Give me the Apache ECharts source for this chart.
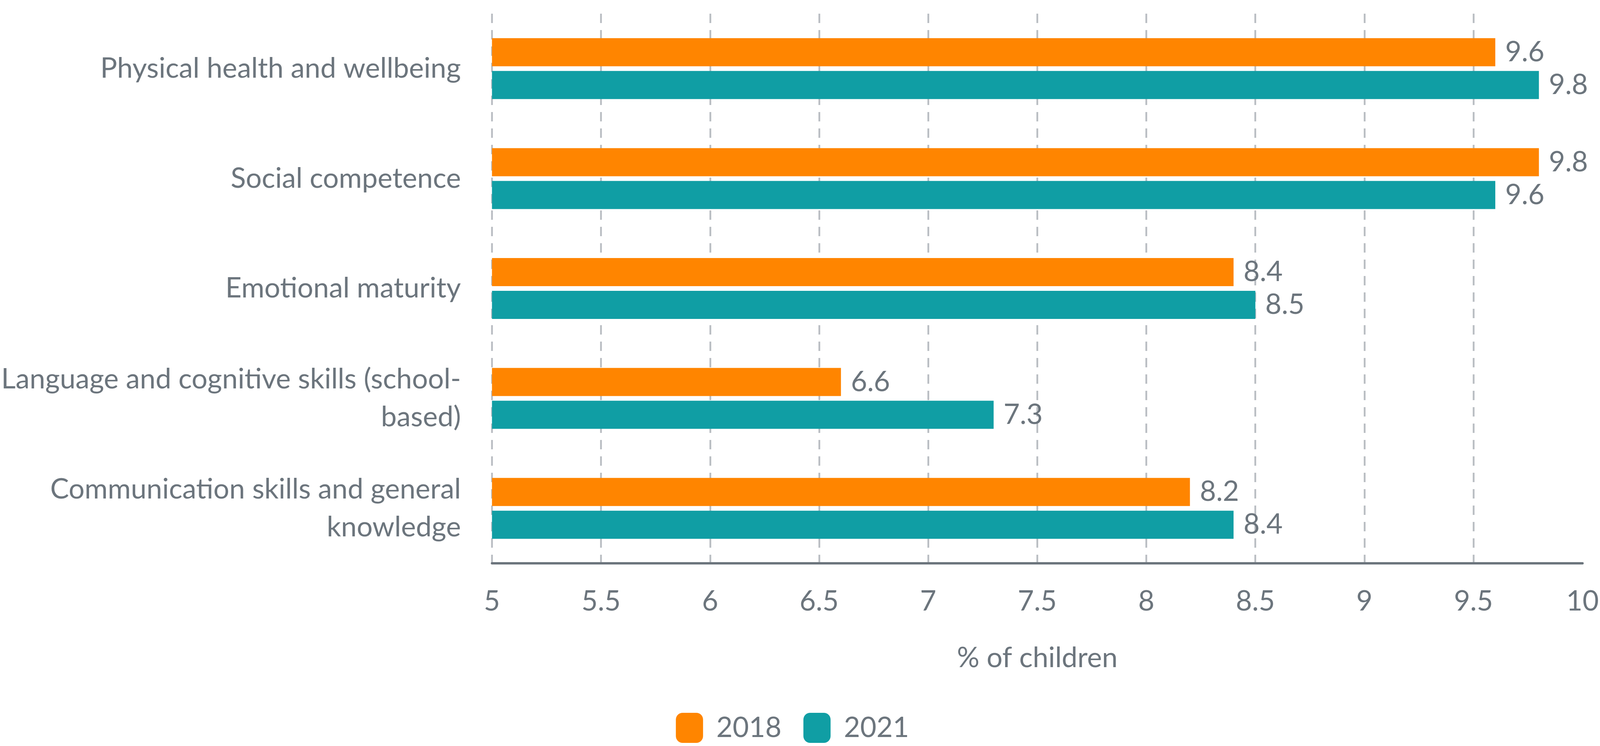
<!DOCTYPE html>
<html>
<head>
<meta charset="utf-8">
<script src="https://cdn.jsdelivr.net/npm/echarts@6/dist/echarts.min.js"></script>
<style>
html,body{margin:0;padding:0;background:#fff;overflow:hidden;}
#chart{width:100vw;height:100vh;}
</style>
</head>
<body>
<div id="chart"></div>
<script>
const categories = [
  'Physical health and wellbeing',
  'Social competence',
  'Emotional maturity',
  'Language and cognitive skills (school-\nbased)',
  'Communication skills and general\nknowledge'
];
const seriesNames = ['2018', '2021'];
const values2018 = [9.6, 9.8, 8.4, 6.6, 8.2];
const values2021 = [9.8, 9.6, 8.5, 7.3, 8.4];
const xTicks = { min: 5, max: 10, interval: 0.5 };
const xAxisName = '% of children';

const textColor = '#6c757d';
const font = 'Lato';

// design size 4530x1911; map to the actual viewport
const sx = window.innerWidth / 4530;
const sy = window.innerHeight / 1911;
const X = v => v * sx;
const Y = v => v * sy;
const fs = Math.min(78 * Math.min(sx, sy) * 1.02, 78);

const chart = echarts.init(document.getElementById('chart'), null, { renderer: 'canvas' });

const labelStyle = {
  show: true,
  position: 'right',
  distance: X(28),
  color: textColor,
  fontFamily: font,
  fontSize: fs,
  formatter: p => p.value.toFixed(1)
};

chart.setOption({
  animation: false,
  backgroundColor: '#ffffff',
  textStyle: { fontFamily: font, color: textColor },
  grid: { left: X(1375), right: X(47), top: Y(35), bottom: Y(1911 - 1443), containLabel: false },
  legend: {
    data: seriesNames,
    left: X(1908),
    top: Y(1821),
    itemWidth: X(77),
    itemHeight: Y(77),
    itemGap: X(62),
    icon: 'roundRect',
    textStyle: { color: textColor, fontFamily: font, fontSize: fs, padding: [0, 0, 0, X(32)] }
  },
  xAxis: {
    type: 'value',
    min: xTicks.min,
    max: xTicks.max,
    interval: xTicks.interval,
    name: xAxisName,
    nameLocation: 'middle',
    nameGap: Y(207),
    nameTextStyle: { color: textColor, fontFamily: font, fontSize: fs },
    axisLine: { show: true, onZero: false, lineStyle: { color: '#6c757d', width: Y(6) } },
    axisTick: { show: false },
    axisLabel: { color: textColor, fontFamily: font, fontSize: fs, margin: Y(62) },
    splitLine: {
      show: true,
      showMinLine: true,
      showMaxLine: false,
      lineStyle: { color: '#b9bdc2', width: X(5), type: [Y(24), Y(18)] }
    }
  },
  yAxis: {
    type: 'category',
    data: categories,
    inverse: true,
    axisLine: { show: false },
    axisTick: { show: false },
    axisLabel: {
      color: textColor,
      fontFamily: font,
      fontSize: fs,
      lineHeight: Y(97),
      margin: X(88),
      align: 'right'
    },
    splitLine: { show: false }
  },
  series: [
    {
      name: seriesNames[0],
      type: 'bar',
      data: values2018,
      barWidth: Y(72),
      barGap: '16.7%',
      itemStyle: { color: '#ff8500' },
      label: labelStyle
    },
    {
      name: seriesNames[1],
      type: 'bar',
      data: values2021,
      barWidth: Y(72),
      barGap: '16.7%',
      itemStyle: { color: '#109ea4' },
      label: labelStyle
    }
  ]
});
</script>
</body>
</html>
